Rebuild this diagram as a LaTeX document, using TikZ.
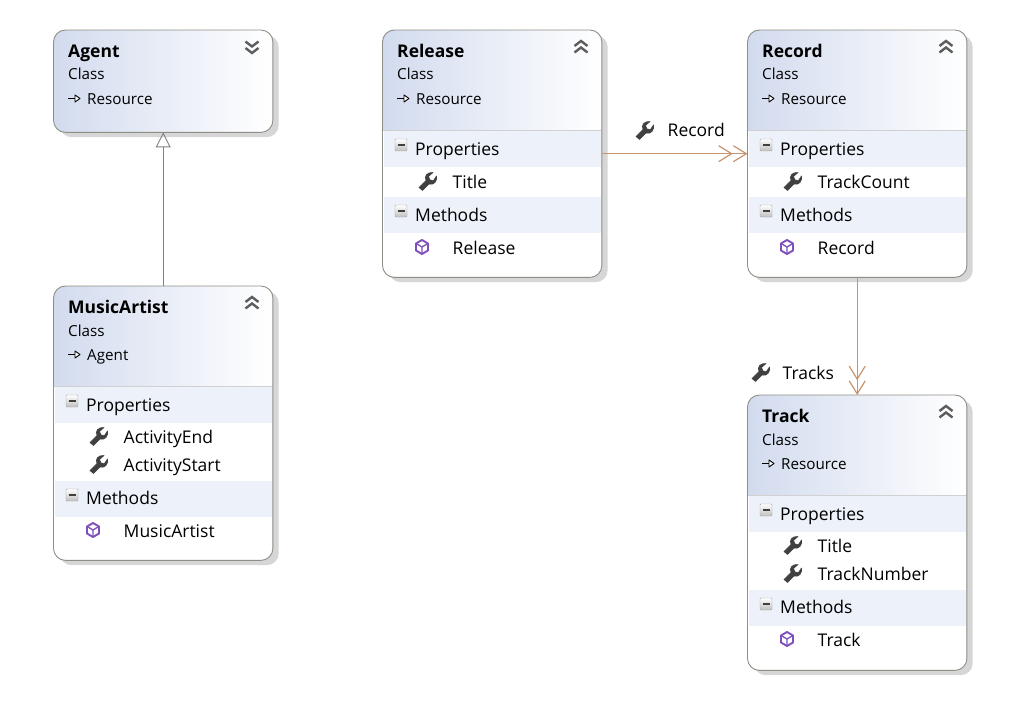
\documentclass[tikz,border=0pt]{standalone}
\usepackage{fontspec}
\setmainfont{Open Sans}
\usetikzlibrary{arrows.meta}
\usetikzlibrary{shadows}
\definecolor{cardedge}{HTML}{8E8E86}
\definecolor{cardshade}{HTML}{D6D6D6}
\definecolor{headblue}{HTML}{D2DBEE}
\definecolor{stripblue}{HTML}{EDF1F9}
\definecolor{assoc}{HTML}{C8946F}
\definecolor{iconink}{HTML}{404040}
\definecolor{cubeink}{HTML}{7F50BC}
\tikzset{
  cardbox/.style={rectangle, rounded corners=12pt, minimum width=219pt, inner sep=0pt, fill=white,
    drop shadow={shadow xshift=6pt, shadow yshift=-5pt, fill=cardshade, opacity=1}},
  headbox/.style={rectangle, minimum width=219pt, inner sep=0pt, left color=headblue, right color=white},
  stripbox/.style={rectangle, minimum width=217pt, minimum height=36pt, inner sep=0pt, fill=stripblue},
  titletext/.style={anchor=base west, inner sep=0pt, font=\fontsize{17.5}{18}\selectfont\bfseries},
  smalltext/.style={anchor=base west, inner sep=0pt, font=\fontsize{15.2}{16}\selectfont},
  itemtext/.style={anchor=base west, inner sep=0pt, font=\fontsize{17.5}{18}\selectfont},
  wrench/.pic={
    \path[fill=iconink, draw=iconink, line width=.6pt, line join=round] (-8,6.5) -- (-1,-.5) .. controls (-3,-5) and (0,-9) .. (6,-8.5)
      -- (1.5,-4.5) -- (3,-1) -- (6.5,-.5) -- (9.5,-5) .. controls (10.5,0) and (7,4.5) .. (2,3)
      -- (-4.5,9.5) -- cycle;
  },
  cube/.pic={
    \draw[cubeink, line width=1.9pt, fill=white, line join=round] (0,-7) -- (6,-3.5) -- (6,3.5) -- (0,7) -- (-6,3.5) -- (-6,-3.5) -- cycle;
    \draw[cubeink, line width=1.3pt] (-5,-3) -- (0,0) -- (5,-3) (0,0) -- (0,6);
  },
  minusbox/.pic={
    \draw[draw=black!35, top color=white, bottom color=black!25, rounded corners=1pt] (-6,-6) rectangle (6,6);
    \draw[iconink, line width=1.4pt] (-3.5,0) -- (3.5,0);
  },
  chevrons/.pic={
    \draw[iconink!85, line width=2.4pt] (-6.5,-1) -- (0,-6) -- (6.5,-1) (-6.5,5.5) -- (0,.5) -- (6.5,5.5);
  },
  baseicon/.pic={
    \draw[black, line width=1.1pt] (-6,0) -- (3,0);
    \draw[black, line width=.9pt, fill=white, line join=round] (1,-3.5) -- (6,0) -- (1,3.5) -- cycle;
  },
  assocline/.style={-{Straight Barb[length=13pt, width=16pt] Straight Barb[length=13pt, width=16pt]}, assoc, line width=1.2pt}
}
% one class card, coordinates are relative to its top left corner
\newcommand{\classcard}[6]{%
  \node[cardbox, minimum height=#2pt, anchor=north west] (#1) at (0,0) {};
  \begin{scope}
    \clip[rounded corners=12pt] (#1.north west) rectangle (#1.south east);
    \node[headbox, minimum height=#3pt, anchor=north west] (#1head) at (0,0) {};
    \draw[black!18] (#1head.south west) -- (#1head.south east);
  \end{scope}
  \draw[cardedge, line width=.9pt, rounded corners=12pt] (#1.north west) rectangle (#1.south east);
  \node[titletext] (#1name) at (14.5,27.5) {#4};
  \node[smalltext] (#1kind) at (14.5,50) {Class};
  \pic at (20.5,68.5) {baseicon};
  \node[smalltext] (#1base) at (33.5,74.5) {#5};
  \pic[#6] at (198.5,17) {chevrons};
}
\newcommand{\compartment}[4]{%
  \node[stripbox, anchor=north west] (#1) at (1,#2) {};
  \pic at (18.5,#2+14) {minusbox};
  \node[itemtext] (#1label) at (32.5,#3+.7) {#4};
}
\newcommand{\member}[5]{%
  \pic at (#2,#4-7) {#1};
  \node[itemtext] (#3) at (70,#4+.7) {#5};
}
\begin{document}
\begin{tikzpicture}[x=1pt, y=-1pt, >=Stealth]
\useasboundingbox (0,0) rectangle (1022,722);
\begin{scope}[shift={(53.5,30)}]
    \classcard{agent}{102}{102}{Agent}{Resource}{yscale=-1}
\end{scope}
\begin{scope}[shift={(382.5,30)}]
    \classcard{release}{247}{100}{Release}{Resource}{}
    \compartment{releaseprops}{101}{125}{Properties}
    \member{wrench}{44.5}{releasetitle}{158}{Title}
    \compartment{releasemeth}{167}{191}{Methods}
    \member{cube}{39.5}{releasector}{224}{Release}
\end{scope}
\begin{scope}[shift={(747.5,30)}]
    \classcard{record}{247}{100}{Record}{Resource}{}
    \compartment{recordprops}{101}{125}{Properties}
    \member{wrench}{44.5}{recordcount}{158}{TrackCount}
    \compartment{recordmeth}{167}{191}{Methods}
    \member{cube}{39.5}{recordctor}{224}{Record}
\end{scope}
\begin{scope}[shift={(53.5,286)}]
    \classcard{artist}{274}{100}{MusicArtist}{Agent}{}
    \compartment{artistprops}{101}{125}{Properties}
    \member{wrench}{44.5}{artistend}{157}{ActivityEnd}
    \member{wrench}{44.5}{artiststart}{185}{ActivityStart}
    \compartment{artistmeth}{195}{218}{Methods}
    \member{cube}{39.5}{artistctor}{251}{MusicArtist}
\end{scope}
\begin{scope}[shift={(747.5,395)}]
    \classcard{track}{275}{100}{Track}{Resource}{}
    \compartment{trackprops}{101}{125}{Properties}
    \member{wrench}{44.5}{tracktitle}{157}{Title}
    \member{wrench}{44.5}{tracknumber}{185}{TrackNumber}
    \compartment{trackmeth}{195}{218}{Methods}
    \member{cube}{39.5}{trackctor}{251}{Track}
\end{scope}
\draw[-{Triangle[open, length=15pt, width=15pt]}, black!50, line width=.9pt] (artist.north) -- (agent.south);
\draw[assocline] (release.east) -- (record.west);
\draw[assocline] (record.south) -- (track.north);
\pic at (644,130) {wrench};
\node[itemtext] (recordrole) at (667.5,137) {Record};
\pic at (760,372) {wrench};
\node[itemtext] (tracksrole) at (782.5,379) {Tracks};
\end{tikzpicture}
\end{document}
